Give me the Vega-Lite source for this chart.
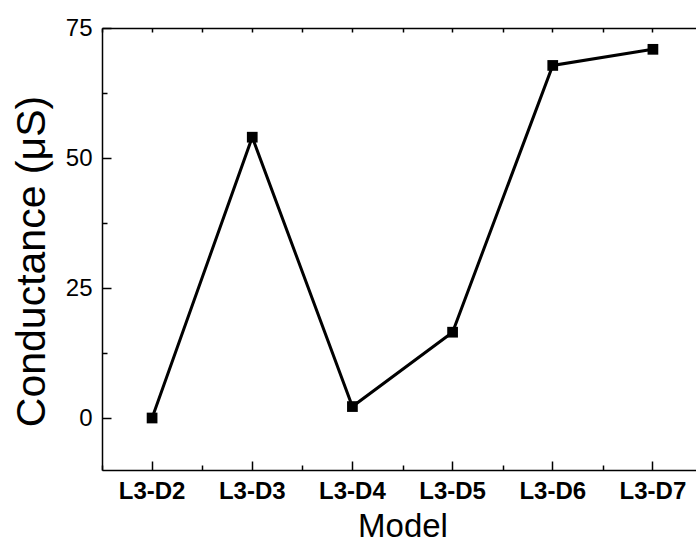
{
  "$schema": "https://vega.github.io/schema/vega-lite/v6.json",
  "autosize": {"type": "none"},
  "padding": {"left": 102, "top": 28, "right": 0, "bottom": 72},
  "width": 594,
  "height": 442,
  "background": "white",
  "config": {
    "view": {"stroke": null},
    "font": "Liberation Sans",
    "axis": {"domainColor": "black", "tickColor": "black", "labelColor": "black", "titleColor": "black", "domainWidth": 1.5, "tickWidth": 1.5, "grid": false}
  },
  "data": {
    "values": [
      {"model": "L3-D2", "conductance": 0},
      {"model": "L3-D3", "conductance": 54},
      {"model": "L3-D4", "conductance": 2.2},
      {"model": "L3-D5", "conductance": 16.5},
      {"model": "L3-D6", "conductance": 67.8},
      {"model": "L3-D7", "conductance": 70.9}
    ]
  },
  "layer": [
    {
      "mark": {"type": "line", "color": "black", "strokeWidth": 3},
      "encoding": {
        "x": {"field": "model", "type": "nominal", "sort": null,
          "scale": {"type": "band", "paddingInner": 0, "paddingOuter": 0, "range": [0, 601]},
          "axis": {"orient": "bottom", "labelAngle": 0, "ticks": false, "labelPadding": 9, "labelFontSize": 24, "labelFontWeight": "bold",
            "title": "Model", "titleFontSize": 33, "titleFontWeight": "normal", "titlePadding": 7}},
        "y": {"field": "conductance", "type": "quantitative",
          "scale": {"domain": [-10, 75], "nice": false, "zero": false},
          "axis": {"orient": "left", "values": [0, 25, 50, 75], "ticks": false, "labelPadding": 10, "labelFontSize": 24,
            "title": "Conductance (μS)", "titleFontSize": 41, "titleFontWeight": "normal", "titlePadding": 12, "titleY": 233}}
      }
    },
    {
      "mark": {"type": "point", "shape": "square", "filled": true, "color": "black", "size": 115, "opacity": 1},
      "encoding": {
        "x": {"field": "model", "type": "nominal", "sort": null,
          "axis": {"orient": "bottom", "offset": -9, "tickSize": 9, "labels": false, "domain": false, "title": null}},
        "y": {"field": "conductance", "type": "quantitative",
          "axis": {"orient": "left", "offset": -9, "tickSize": 9, "values": [0, 25, 50, 75], "labels": false, "domain": false, "title": null}}
      }
    },
    {
      "mark": {"type": "point", "opacity": 0},
      "encoding": {
        "x": {"field": "model", "type": "nominal", "sort": null,
          "axis": {"orient": "bottom", "offset": -5, "tickSize": 5, "tickBand": "extent", "labels": false, "domain": false, "title": null}},
        "y": {"field": "conductance", "type": "quantitative",
          "axis": {"orient": "left", "offset": -5, "tickSize": 5, "values": [12.5, 37.5, 62.5], "labels": false, "domain": false, "title": null}}
      }
    },
    {
      "mark": {"type": "point", "opacity": 0},
      "encoding": {
        "x": {"field": "model", "type": "nominal", "sort": null,
          "axis": {"orient": "top", "ticks": false, "labels": false, "title": null}},
        "y": {"field": "conductance", "type": "quantitative", "axis": null}
      }
    },
    {
      "mark": {"type": "point", "opacity": 0},
      "encoding": {
        "x": {"field": "model", "type": "nominal", "sort": null,
          "axis": {"orient": "top", "offset": -4, "tickSize": 4, "labels": false, "domain": false, "title": null}},
        "y": {"field": "conductance", "type": "quantitative", "axis": null}
      }
    },
    {
      "mark": {"type": "point", "opacity": 0},
      "encoding": {
        "x": {"field": "model", "type": "nominal", "sort": null,
          "axis": {"orient": "top", "offset": -4, "tickSize": 4, "tickBand": "extent", "labels": false, "domain": false, "title": null}},
        "y": {"field": "conductance", "type": "quantitative", "axis": null}
      }
    }
  ],
  "resolve": {"axis": {"x": "independent", "y": "independent"}}
}
